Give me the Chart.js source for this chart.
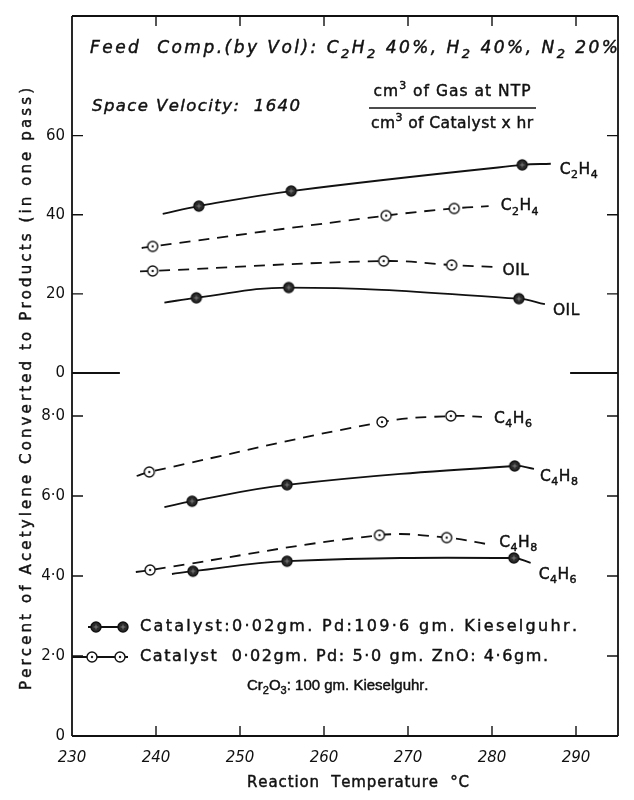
<!DOCTYPE html>
<html>
<head>
<meta charset="utf-8">
<script src="https://cdn.jsdelivr.net/npm/chart.js@4.4.1/dist/chart.umd.min.js"></script>
<style>
  html, body { margin: 0; padding: 0; background: #fff; }
  #wrap { position: relative; width: 634px; height: 800px; }
  #wrap canvas { position: absolute; left: 0; top: 0; }
</style>
</head>
<body>
<div id="wrap">
  <canvas id="upper" width="634" height="800"></canvas>
  <canvas id="lower" width="634" height="800"></canvas>
</div>
<script>
// ---- data ----
// each series: first and last entries are where the drawn curve starts / stops (no marker)
const xTicks = [230, 240, 250, 260, 270, 280, 290];
const upperTicks = [0, 20, 40, 60];
const upperTickLabels = ['0', '20', '40', '60'];
const lowerTicks = [0, 2, 4, 6, 8];
const lowerTickLabels = ['0', '2·0', '4·0', '6·0', '8·0'];

// upper panel (Pd / Kieselguhr = solid, Pd-ZnO-Cr2O3 = dashed)
const c2h4PdT = [240.8, 245.1, 256.1, 283.6, 287.0];
const c2h4PdV = [40.2, 42.2, 46.0, 52.6, 52.9];
const c2h4ZnT = [238.3, 239.6, 267.4, 275.5, 279.6];
const c2h4ZnV = [31.6, 32.0, 39.8, 41.6, 42.2];
const oilZnT = [238.1, 239.6, 267.1, 275.2, 280.3];
const oilZnV = [25.7, 25.8, 28.3, 27.3, 26.8];
const oilPdT = [241.0, 244.8, 255.8, 283.2, 286.3];
const oilPdV = [17.8, 19.0, 21.6, 18.8, 17.4];

// lower panel
const c4h6ZnT = [237.7, 239.2, 266.9, 275.1, 278.8];
const c4h6ZnV = [6.5, 6.6, 7.85, 8.0, 7.98];
const c4h8PdT = [241.0, 244.3, 255.6, 282.7, 285.0];
const c4h8PdV = [5.72, 5.87, 6.28, 6.75, 6.68];
const c4h8ZnT = [237.6, 239.3, 266.6, 274.6, 279.9];
const c4h8ZnV = [4.1, 4.15, 5.02, 4.96, 4.78];
const c4h6PdT = [241.9, 244.4, 255.6, 282.6, 284.6];
const c4h6PdV = [4.05, 4.12, 4.37, 4.45, 4.33];

const INK = '#111';
const FONT = "'DejaVu Sans', sans-serif";

function makeMarker(filled) {
  const c = document.createElement('canvas');
  c.width = 14; c.height = 14;
  const g = c.getContext('2d');
  g.beginPath();
  g.arc(7, 7, 5, 0, Math.PI * 2);
  g.fillStyle = filled ? '#2a2a2a' : '#fff';
  g.fill();
  g.lineWidth = 1.4;
  g.strokeStyle = '#111';
  g.stroke();
  if (filled) {
    g.strokeStyle = '#8c8c8c';
    g.lineWidth = 0.8;
    g.beginPath();
    g.moveTo(4.6, 7); g.lineTo(9.4, 7);
    g.moveTo(7, 4.6); g.lineTo(7, 9.4);
    g.stroke();
  } else {
    g.beginPath();
    g.arc(7, 7, 1.2, 0, Math.PI * 2);
    g.fillStyle = '#222';
    g.fill();
  }
  return c;
}
const solidMarker = makeMarker(true);
const openMarker = makeMarker(false);

// text with _x subscripts and ^x superscripts, drawn char by char so it can be stretched to a width
function drawRich(ctx, str, x, y, o) {
  const size = o.size || 14;
  const family = o.family || FONT;
  const parts = [];
  for (let i = 0; i < str.length; i++) {
    const ch = str[i];
    if ((ch === '_' || ch === '^') && i + 1 < str.length) {
      parts.push({ t: str[i + 1], k: ch });
      i++;
    } else {
      parts.push({ t: ch, k: '' });
    }
  }
  const fontFor = k => (o.style || '') + ' ' + (k ? Math.round(size * 0.74) : size) + 'px ' + family;
  let natural = 0;
  parts.forEach(p => {
    ctx.font = fontFor(p.k);
    p.w = ctx.measureText(p.t).width;
    natural += p.w;
  });
  let sp = o.spacing || 0;
  if (o.width) sp = (o.width - natural) / Math.max(parts.length - 1, 1);
  const total = natural + sp * (parts.length - 1);
  let cx = o.align === 'center' ? x - total / 2 : x;
  ctx.save();
  ctx.fillStyle = INK;
  ctx.strokeStyle = INK;
  ctx.lineWidth = 0.45;
  ctx.textBaseline = 'middle';
  ctx.textAlign = 'left';
  parts.forEach(p => {
    ctx.font = fontFor(p.k);
    const dy = p.k === '_' ? size * 0.36 : p.k === '^' ? -size * 0.38 : 0;
    ctx.fillText(p.t, cx, y + dy);
    ctx.strokeText(p.t, cx, y + dy);
    cx += p.w + sp;
  });
  ctx.restore();
}

function series(temps, vals, name, filled, dx, dy) {
  return {
    label: name,
    data: temps.map((t, i) => ({ x: t, y: vals[i] })),
    borderColor: INK,
    borderWidth: 1.8,
    borderDash: filled ? [] : [11, 8],
    tension: 0.4,
    fill: false,
    pointStyle: filled ? solidMarker : openMarker,
    pointRadius: temps.map((_, i) => (i === 0 || i === temps.length - 1) ? 0 : 5),
    endLabel: { dx: dx, dy: dy }
  };
}

const endLabels = {
  id: 'endLabels',
  afterDatasetsDraw(chart) {
    chart.data.datasets.forEach((ds, i) => {
      const pts = chart.getDatasetMeta(i).data;
      const last = pts[pts.length - 1];
      drawRich(chart.ctx, ds.label, last.x + ds.endLabel.dx, last.y + ds.endLabel.dy, { size: 15.5, spacing: 0.5 });
    });
  }
};

// border of the panel and inward tick marks, built from the scales
function frame(part) {
  return {
    id: 'frame',
    afterDraw(chart) {
      const { ctx, chartArea: a, scales } = chart;
      const xs = scales.x, ys = scales.y;
      const ticks = part === 'upper' ? upperTicks : lowerTicks;
      ctx.save();
      ctx.strokeStyle = INK;
      ctx.lineWidth = 1.8;
      ctx.beginPath();
      ctx.moveTo(a.left, a.top); ctx.lineTo(a.left, a.bottom);
      ctx.moveTo(a.right, a.top); ctx.lineTo(a.right, a.bottom);
      if (part === 'upper') {
        ctx.moveTo(a.left, a.top); ctx.lineTo(a.right, a.top);
        // the broken divider between the two panels
        ctx.moveTo(a.left, a.bottom); ctx.lineTo(xs.getPixelForValue(235.7), a.bottom);
        ctx.moveTo(xs.getPixelForValue(289.3), a.bottom); ctx.lineTo(a.right, a.bottom);
      } else {
        ctx.moveTo(a.left, a.bottom); ctx.lineTo(a.right, a.bottom);
      }
      ctx.stroke();
      ctx.lineWidth = 1.4;
      ctx.beginPath();
      xTicks.slice(1).forEach(v => {
        const px = xs.getPixelForValue(v);
        if (part === 'upper') { ctx.moveTo(px, a.top); ctx.lineTo(px, a.top + 10); }
        else { ctx.moveTo(px, a.bottom); ctx.lineTo(px, a.bottom - 10); }
      });
      ticks.slice(1).forEach(v => {
        const py = ys.getPixelForValue(v);
        ctx.moveTo(a.left, py); ctx.lineTo(a.left + 11, py);
        ctx.moveTo(a.right, py); ctx.lineTo(a.right - 11, py);
      });
      ctx.stroke();
      ctx.restore();
    }
  };
}

const headerText = {
  id: 'headerText',
  afterDraw(chart) {
    const ctx = chart.ctx;
    drawRich(ctx, 'Feed  Comp.(by Vol): C_2H_2 40%, H_2 40%, N_2 20%', 90, 49, { size: 17, style: 'italic', width: 528 });
    drawRich(ctx, 'Space Velocity:  1640', 92, 107, { size: 16.5, style: 'italic', width: 208 });
    drawRich(ctx, 'cm^3 of Gas at NTP', 452, 92, { size: 15.5, align: 'center', width: 157 });
    drawRich(ctx, 'cm^3 of Catalyst x hr', 452, 124, { size: 15.5, align: 'center', width: 162 });
    ctx.save();
    ctx.strokeStyle = INK;
    ctx.lineWidth = 1.4;
    ctx.beginPath();
    ctx.moveTo(369, 108); ctx.lineTo(536, 108);
    ctx.stroke();
    ctx.restore();
  }
};

const lowerText = {
  id: 'lowerText',
  afterDraw(chart) {
    const ctx = chart.ctx;
    // legend
    ctx.save();
    ctx.strokeStyle = INK;
    ctx.lineWidth = 1.8;
    ctx.beginPath();
    ctx.moveTo(88, 627); ctx.lineTo(128, 627);
    ctx.moveTo(72, 657); ctx.lineTo(128, 657);
    ctx.stroke();
    ctx.drawImage(solidMarker, 96 - 7, 627 - 7);
    ctx.drawImage(solidMarker, 123 - 7, 627 - 7);
    ctx.drawImage(openMarker, 92 - 7, 657 - 7);
    ctx.drawImage(openMarker, 120 - 7, 657 - 7);
    ctx.restore();
    drawRich(ctx, 'Catalyst:0·02gm. Pd:109·6 gm. Kieselguhr.', 140, 627, { size: 16, width: 437 });
    drawRich(ctx, 'Catalyst  0·02gm. Pd: 5·0 gm. ZnO: 4·6gm.', 140, 657, { size: 16, width: 408 });
    drawRich(ctx, 'Cr_2O_3: 100 gm. Kieselguhr.', 247, 686, { size: 15, family: "'Liberation Sans', sans-serif", spacing: 0 });
    // axis titles
    drawRich(ctx, 'Reaction  Temperature  °C', 358, 783, { size: 15, align: 'center', width: 222 });
    ctx.save();
    ctx.translate(27, 389);
    ctx.rotate(-Math.PI / 2);
    drawRich(ctx, 'Percent of Acetylene Converted to Products (in one pass)', 0, 0, { size: 15, align: 'center', width: 602 });
    ctx.restore();
  }
};

function yScale(max, ticks, labels) {
  return {
    type: 'linear',
    min: 0,
    max: max,
    afterBuildTicks: s => { s.ticks = ticks.map(v => ({ value: v })); },
    afterFit: s => { s.width = 72; },
    grid: { display: false, drawTicks: false },
    border: { display: false },
    ticks: {
      padding: 7,
      color: INK,
      font: { family: FONT, size: 15 },
      callback: (v, i) => labels[i]
    }
  };
}

const common = {
  responsive: false,
  animation: false,
  events: [],
  plugins: { legend: { display: false }, tooltip: { enabled: false } }
};

new Chart(document.getElementById('upper'), {
  type: 'line',
  data: {
    datasets: [
      series(c2h4PdT, c2h4PdV, 'C_2H_4', true, 9, 6),
      series(c2h4ZnT, c2h4ZnV, 'C_2H_4', false, 12, 0),
      series(oilZnT, oilZnV, 'OIL', false, 8, 4),
      series(oilPdT, oilPdV, 'OIL', true, 8, 7)
    ]
  },
  options: Object.assign({}, common, {
    layout: { padding: { top: 12, bottom: 427, left: 0, right: 16 } },
    scales: {
      x: { type: 'linear', min: 230, max: 295, display: false },
      y: yScale(90.25, upperTicks, upperTickLabels)
    }
  }),
  plugins: [frame('upper'), endLabels, headerText]
});

new Chart(document.getElementById('lower'), {
  type: 'line',
  data: {
    datasets: [
      series(c4h6ZnT, c4h6ZnV, 'C_4H_6', false, 12, 2),
      series(c4h8PdT, c4h8PdV, 'C_4H_8', true, 6, 8),
      series(c4h8ZnT, c4h8ZnV, 'C_4H_8', false, 8, -2),
      series(c4h6PdT, c4h6PdV, 'C_4H_6', true, 8, 12)
    ]
  },
  options: Object.assign({}, common, {
    layout: { padding: { top: 373, bottom: 0, left: 0, right: 16 } },
    scales: {
      x: {
        type: 'linear',
        min: 230,
        max: 295,
        afterBuildTicks: s => { s.ticks = xTicks.map(v => ({ value: v })); },
        afterFit: s => { s.height = 64; },
        grid: { display: false, drawTicks: false },
        border: { display: false },
        ticks: {
          padding: 13,
          color: INK,
          maxRotation: 0,
          font: { family: FONT, size: 15, style: 'italic' },
          callback: v => String(v)
        }
      },
      y: yScale(9.075, lowerTicks, lowerTickLabels)
    }
  }),
  plugins: [frame('lower'), endLabels, lowerText]
});
</script>
</body>
</html>
